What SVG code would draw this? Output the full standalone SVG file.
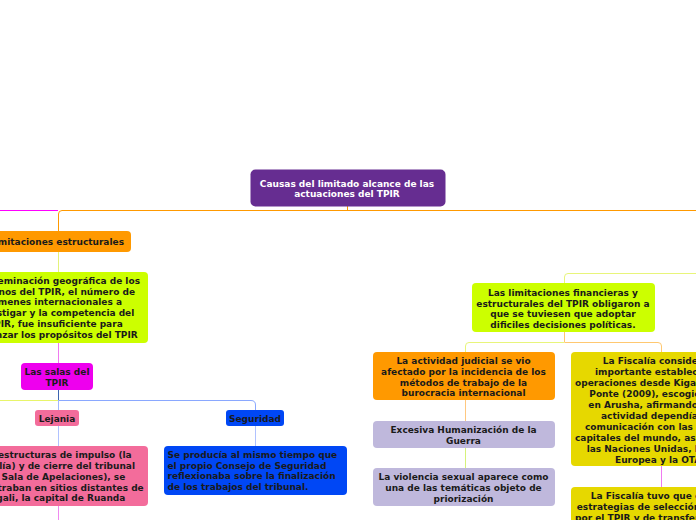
<svg xmlns="http://www.w3.org/2000/svg" width="696" height="520" viewBox="0 0 696 520">
<style>
text{font-family:"DejaVu Sans",Verdana,sans-serif;font-weight:bold;font-size:9px;fill:#1a1a1a}
.c{text-anchor:middle}
.e{text-anchor:end}
.w{fill:#ffffff}
.ln{fill:none;stroke-width:1}
</style>
<rect width="696" height="520" fill="#ffffff"/>
<g id="connectors">
<path class="ln" stroke="#ff00ff" d="M0 210.5H58"/>
<path class="ln" stroke="#ff9900" d="M696 210.5H62Q58.5 210.5 58.5 214V231"/>
<path class="ln" stroke="#ff9900" d="M347.5 206V210.5"/>
<path class="ln" stroke="#e4f27a" d="M58.5 252V272"/>
<path class="ln" stroke="#f07af0" d="M58.5 343V363"/>
<path class="ln" stroke="#3d64b0" d="M58.5 390V400"/>
<path class="ln" stroke="#e8f56a" d="M0 400.5H58"/>
<path class="ln" stroke="#8aa8ff" d="M58.5 400.5H251Q255.5 400.5 255.5 405V410"/>
<path class="ln" stroke="#9fb6ff" d="M58.5 400V410"/>
<path class="ln" stroke="#b0c2ff" d="M58.5 426V446"/>
<path class="ln" stroke="#b0c2ff" d="M255.5 426V446"/>
<path class="ln" stroke="#f08af0" d="M58.5 506V520"/>
<path class="ln" stroke="#e8f57a" d="M696 273.5H568Q564.5 273.5 564.5 277V283"/>
<path class="ln" stroke="#ffc870" d="M564.5 332V342"/>
<path class="ln" stroke="#e8f57a" d="M564.5 342.5H469Q465.5 342.5 465.5 346V352"/>
<path class="ln" stroke="#ffc870" d="M564.5 342.5H658Q661.5 342.5 661.5 346V352"/>
<path class="ln" stroke="#ffc880" d="M465.5 400V421"/>
<path class="ln" stroke="#d6f27a" d="M465.5 448V468"/>
<path class="ln" stroke="#f07af0" d="M661.5 466V487"/>
</g>
<g id="n-central">
<rect x="250.5" y="169.5" width="195" height="37" rx="5" fill="#662d91"/>
<text class="c w" x="347" y="186.5">Causas del limitado alcance de las</text>
<text class="c w" x="347" y="197.3">actuaciones del TPIR</text>
</g>
<g id="n-limitaciones">
<rect x="-10" y="231" width="141" height="21" rx="4" fill="#ff9900"/>
<text class="e" x="124" y="244.8">Limitaciones estructurales</text>
</g>
<g id="n-diseminacion">
<rect x="-35" y="272" width="183" height="71" rx="4" fill="#ccff00"/>
<text class="e" x="140" y="283.7">Diseminación geográfica de los</text>
<text class="e" x="135" y="294.5">órganos del TPIR, el número de</text>
<text class="e" x="122" y="305.3">crímenes internacionales a</text>
<text class="e" x="134.3" y="316.1">investigar y la competencia del</text>
<text class="e" x="122.7" y="326.9">TPIR, fue insuficiente para</text>
<text class="e" x="137.7" y="337.7">alcanzar los propósitos del TPIR</text>
</g>
<g id="n-salas">
<rect x="21" y="363" width="72" height="27" rx="4" fill="#ee00ee"/>
<text class="c" x="57" y="375.2">Las salas del</text>
<text class="c" x="57" y="386">TPIR</text>
</g>
<g id="n-lejania">
<rect x="35" y="410" width="44" height="16" rx="3" fill="#f36c9b"/>
<text class="c" x="57" y="421.7">Lejania</text>
</g>
<g id="n-seguridad">
<rect x="226" y="410" width="58" height="16" rx="3" fill="#0047f5"/>
<text class="c" x="255" y="421.7">Seguridad</text>
</g>
<g id="n-estructuras">
<rect x="-35" y="446" width="183" height="60" rx="4" fill="#f36c9b"/>
<text class="e" x="131.7" y="458.2">Las estructuras de impulso (la</text>
<text class="e" x="135" y="469">Fiscalía) y de cierre del tribunal</text>
<text class="e" x="125.3" y="479.8">(la Sala de Apelaciones), se</text>
<text class="e" x="143.7" y="490.6">encontraban en sitios distantes de</text>
<text class="e" x="125.3" y="501.4">Kigali, la capital de Ruanda</text>
</g>
<g id="n-consejo">
<rect x="164" y="446" width="183" height="49" rx="4" fill="#0047f5"/>
<text x="167.5" y="457.7">Se producía al mismo tiempo que</text>
<text x="167.5" y="468.5">el propio Consejo de Seguridad</text>
<text x="167.5" y="479.3">reflexionaba sobre la finalización</text>
<text x="167.5" y="490.1">de los trabajos del tribunal.</text>
</g>
<g id="n-financieras">
<rect x="472" y="283" width="183" height="49" rx="4" fill="#ccff00"/>
<text class="c" x="563" y="295.8">Las limitaciones financieras y</text>
<text class="c" x="563" y="306.6">estructurales del TPIR obligaron a</text>
<text class="c" x="563" y="317.4">que se tuviesen que adoptar</text>
<text class="c" x="563" y="328.2">dificiles decisiones políticas.</text>
</g>
<g id="n-actividad">
<rect x="373" y="352" width="182" height="48" rx="4" fill="#ff9900"/>
<text class="c" x="463.5" y="364">La actividad judicial se vio</text>
<text class="c" x="463.5" y="374.8">afectado por la incidencia de los</text>
<text class="c" x="463.5" y="385.6">métodos de trabajo de la</text>
<text class="c" x="463.5" y="396.4">burocracia internacional</text>
</g>
<g id="n-humanizacion">
<rect x="373" y="421" width="182" height="27" rx="4" fill="#bfb8dc"/>
<text class="c" x="463.5" y="433.3">Excesiva Humanización de la</text>
<text class="c" x="463.5" y="444">Guerra</text>
</g>
<g id="n-violencia">
<rect x="373" y="468" width="182" height="38" rx="4" fill="#bfb8dc"/>
<text class="c" x="463.5" y="480.3">La violencia sexual aparece como</text>
<text class="c" x="463.5" y="491">una de las temáticas objeto de</text>
<text class="c" x="463.5" y="501.7">priorización</text>
</g>
<g id="n-fiscalia">
<rect x="571" y="352" width="183" height="114" rx="4" fill="#e6d800"/>
<text x="602.7" y="364">La Fiscalía consideró</text>
<text x="595" y="375">importante establecer las</text>
<text x="575" y="386">operaciones desde Kigali. Del</text>
<text x="589.3" y="397">Ponte (2009), escogió residir</text>
<text x="588.3" y="408">en Arusha, afirmando que su</text>
<text x="601" y="419">actividad dependía de la</text>
<text x="585" y="430">comunicación con las grandes</text>
<text x="575" y="441">capitales del mundo, así como de</text>
<text x="586.7" y="452">las Naciones Unidas, la Unión</text>
<text x="615" y="463">Europea y la OTAN.</text>
</g>
<g id="n-fiscalia2">
<rect x="571" y="487" width="183" height="50" rx="4" fill="#e6d800"/>
<text x="590.7" y="499.2">La Fiscalía tuvo que diseñar</text>
<text x="576.7" y="510">estrategias de selección de casos</text>
<text x="575" y="520.8">por el TPIR y de transferencia</text>
</g>
</svg>
